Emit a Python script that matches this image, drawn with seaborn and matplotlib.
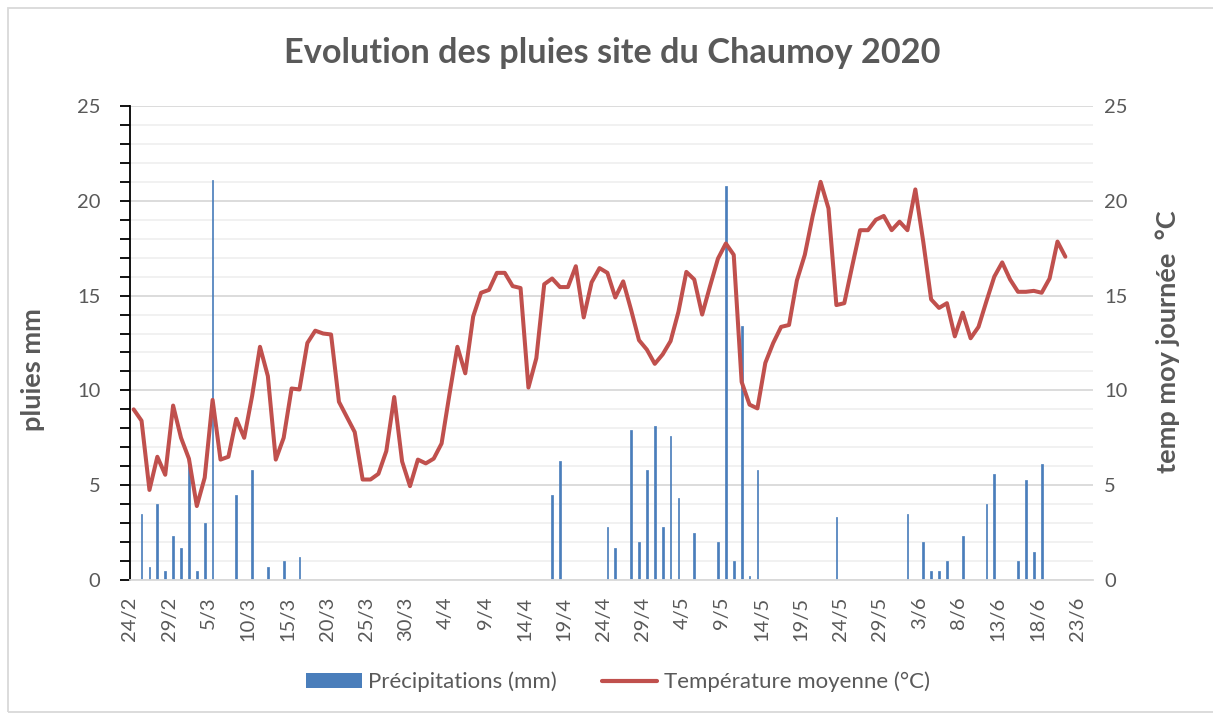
import numpy as np
import pandas as pd
import matplotlib
matplotlib.use("Agg")
import matplotlib.pyplot as plt
import seaborn as sns
from matplotlib.patches import Rectangle, Patch
from matplotlib.lines import Line2D
from matplotlib.ticker import MultipleLocator

# Daily mean temperature, one value per day starting 24/2/2020
start_date = "2020-02-24"
temperature = [
    9.0, 8.4, 4.75, 6.5, 5.55, 9.2, 7.5, 6.4, 3.9, 5.4,
    9.5, 6.35, 6.5, 8.5, 7.5, 9.7, 12.3, 10.75, 6.35, 7.5,
    10.1, 10.05, 12.5, 13.15, 13.0, 12.95, 9.4, 8.6, 7.8, 5.3,
    5.3, 5.6, 6.8, 9.65, 6.25, 4.95, 6.35, 6.15, 6.4, 7.2,
    9.8, 12.3, 10.9, 13.9, 15.15, 15.3, 16.2, 16.2, 15.5, 15.4,
    10.15, 11.7, 15.6, 15.9, 15.45, 15.45, 16.55, 13.85, 15.7, 16.45,
    16.2, 14.9, 15.75, 14.25, 12.65, 12.15, 11.4, 11.9, 12.6, 14.15,
    16.25, 15.85, 14.0, 15.5, 16.95, 17.75, 17.15, 10.45, 9.25, 9.05,
    11.45, 12.5, 13.35, 13.45, 15.8, 17.15, 19.2, 21.0, 19.6, 14.5,
    14.6, 16.55, 18.45, 18.45, 19.0, 19.2, 18.45, 18.9, 18.45, 20.6,
    17.85, 14.8, 14.35, 14.6, 12.85, 14.1, 12.75, 13.35, 14.7, 16.0,
    16.75, 15.85, 15.2, 15.2, 15.25, 15.15, 15.9, 17.85, 17.05,
]

# Rainy days (d/m) and precipitation in mm
rain_dates = [
    "25/2", "26/2", "27/2", "28/2", "29/2", "1/3", "2/3", "3/3", "4/3", "5/3",
    "8/3", "10/3", "12/3", "14/3", "16/3",
    "17/4", "18/4", "24/4", "25/4", "27/4", "28/4", "29/4", "30/4",
    "1/5", "2/5", "3/5", "5/5", "8/5", "9/5", "10/5", "11/5", "12/5", "13/5",
    "23/5", "1/6", "3/6", "4/6", "5/6", "6/6", "8/6", "11/6", "12/6",
    "15/6", "16/6", "17/6", "18/6",
]
rain_mm = [
    3.5, 0.7, 4.0, 0.5, 2.3, 1.7, 6.4, 0.5, 3.0, 21.1,
    4.5, 5.8, 0.7, 1.0, 1.2,
    4.5, 6.3, 2.8, 1.7, 7.9, 2.0, 5.8, 8.1,
    2.8, 7.6, 4.3, 2.5, 2.0, 20.8, 1.0, 13.4, 0.2, 5.8,
    3.3, 3.5, 2.0, 0.5, 0.5, 1.0, 2.3, 4.0, 5.6,
    1.0, 5.3, 1.5, 6.1,
]

start = pd.Timestamp(start_date)
temp_df = pd.DataFrame({"date": pd.date_range(start, periods=len(temperature)),
                        "temp": temperature})
temp_df["x"] = (temp_df["date"] - start).dt.days + 0.5

rain_df = pd.DataFrame({
    "date": [pd.Timestamp(year=2020, month=int(s.split("/")[1]), day=int(s.split("/")[0]))
             for s in rain_dates],
    "mm": rain_mm,
})
rain_df["x"] = (rain_df["date"] - start).dt.days + 0.5

tick_dates = pd.date_range(start, "2020-06-23", freq="5D")
tick_pos = (tick_dates - start).days
tick_labels = [f"{d.day}/{d.month}" for d in tick_dates]

sns.set_style("white")
plt.rcParams["font.family"] = ["Lato", "DejaVu Sans"]

grey = "#595959"
blue = "#4A7EBB"
red = "#C0504D"

W, H = 1213, 715
fig = plt.figure(figsize=(W / 100, H / 100), dpi=100)
ax = fig.add_axes([129.7 / W, 1 - 580 / H, (1093 - 129.7) / W, (580 - 106) / H])

sns.barplot(data=rain_df, x="x", y="mm", native_scale=True, width=0.22,
            color=blue, saturation=1, errorbar=None, ax=ax, zorder=2,
            edgecolor=blue, linewidth=0.5)

ax.set_xlim(0, 122)
ax.set_ylim(0, 25)
ax.yaxis.set_major_locator(MultipleLocator(5))
ax.yaxis.set_minor_locator(MultipleLocator(1))
ax.grid(which="major", axis="y", color="#D9D9D9", lw=1.3)
ax.grid(which="minor", axis="y", color="#F0F0F0", lw=1.3)
ax.set_axisbelow(True)
ax.set_xticks(tick_pos)
ax.set_xticklabels(tick_labels, rotation=90)
ax.set_xlabel("")
ax.set_ylabel("")
for s in ["top", "right"]:
    ax.spines[s].set_visible(False)
ax.spines["left"].set_color("black")
ax.spines["left"].set_linewidth(1.3)
ax.spines["bottom"].set_color("#D9D9D9")
ax.spines["bottom"].set_linewidth(1.3)
ax.tick_params(axis="x", direction="out", length=6, width=1.3, color="#D9D9D9",
               labelcolor=grey, labelsize=14.5, pad=6)
ax.tick_params(axis="y", which="both", direction="out", length=7, width=1.3,
               color="black", left=True, labelcolor=grey, labelsize=14.5, pad=14)
ax.tick_params(axis="y", which="minor", labelleft=False)

ax2 = ax.twinx()
sns.lineplot(data=temp_df, x="x", y="temp", color=red, lw=2.9, ax=ax2,
             solid_joinstyle="round", solid_capstyle="round")
ax2.set_ylim(0, 25)
ax2.set_xlim(0, 122)
ax2.yaxis.set_major_locator(MultipleLocator(5))
ax2.set_ylabel("")
for s in ax2.spines.values():
    s.set_visible(False)
ax2.tick_params(axis="y", length=0, labelcolor=grey, labelsize=14.5, pad=8)

fig.text(612 / W, 1 - 53 / H, "Evolution des pluies site du Chaumoy 2020",
         ha="center", va="center", fontsize=24.7, fontweight="bold", color=grey)
fig.text(33 / W, 1 - 370 / H, "pluies mm", rotation=90, ha="center", va="center",
         fontsize=19.5, fontweight="bold", color=grey)
fig.text(1168 / W, 1 - 342 / H, "temp moy journée  °C", rotation=90, ha="center",
         va="center", fontsize=19.5, fontweight="bold", color=grey)

handles = [Patch(facecolor=blue, edgecolor="none"), Line2D([], [], color=red, lw=3)]
fig.legend(handles, ["Précipitations (mm)", "Température moyenne (°C)"],
           loc="center", bbox_to_anchor=(618 / W, 1 - 682 / H), ncol=2, frameon=False,
           fontsize=16, labelcolor=grey, handlelength=2.5, handleheight=0.6,
           handletextpad=0.3, columnspacing=2.0)

fig.add_artist(Rectangle((8 / W, 3 / H), 1.0, (712 - 8) / H, transform=fig.transFigure,
                         fill=False, edgecolor="#D9D9D9", lw=1.3))

fig.savefig("out.png", dpi=100)
